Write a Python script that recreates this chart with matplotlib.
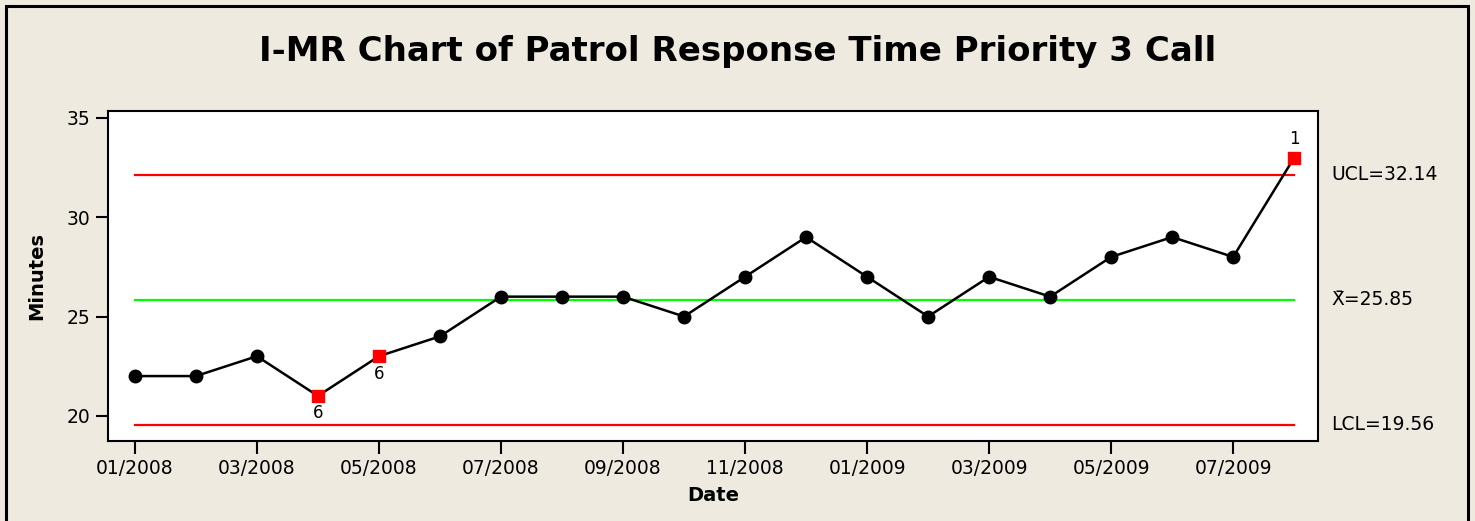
import matplotlib
matplotlib.use("Agg")
import matplotlib.pyplot as plt
from matplotlib.patches import Rectangle

dates = ["01/2008", "02/2008", "03/2008", "04/2008", "05/2008", "06/2008", "07/2008",
         "08/2008", "09/2008", "10/2008", "11/2008", "12/2008", "01/2009", "02/2009",
         "03/2009", "04/2009", "05/2009", "06/2009", "07/2009", "08/2009"]
minutes = [22, 22, 23, 21, 23, 24, 26, 26, 26, 25, 27, 29, 27, 25, 27, 26, 28, 29, 28, 33]
flagged = {3: "6", 4: "6", 19: "1"}
ucl = 32.14
center = 25.85
lcl = 19.56
y_ticks = [20, 25, 30, 35]

bg = "#EEEAE0"
plt.rcParams['font.family'] = ['DejaVu Sans']

fig = plt.figure(figsize=(14.75, 5.21), dpi=100, facecolor=bg)
ax = fig.add_axes([108/1475, 1-441/521, (1318-108)/1475, (441-111)/521])
ax.set_facecolor("white")

x = list(range(len(minutes)))
ax.plot(x, minutes, color="black", lw=1.8, zorder=3)
normal = [i for i in x if i not in flagged]
ax.plot(normal, [minutes[i] for i in normal], "o", color="black", ms=9, zorder=4)
fl = sorted(flagged)
ax.plot(fl, [minutes[i] for i in fl], "s", color="#FF0000", ms=9, zorder=5)
for i, lab in flagged.items():
    if lab == "1":
        ax.annotate(lab, (i, minutes[i]), xytext=(0, 7), textcoords="offset points",
                    ha="center", va="bottom", fontsize=12)
    else:
        ax.annotate(lab, (i, minutes[i]), xytext=(0, -6), textcoords="offset points",
                    ha="center", va="top", fontsize=12)

ax.plot([0, len(minutes)-1], [ucl, ucl], color="#FF0000", lw=1.6, zorder=2)
ax.plot([0, len(minutes)-1], [lcl, lcl], color="#FF0000", lw=1.6, zorder=2)
ax.plot([0, len(minutes)-1], [center, center], color="#00FF00", lw=1.6, zorder=2)

ax.set_xlim(-0.44, 19.39)
ax.set_ylim(18.73, 35.35)
ax.set_yticks(y_ticks)
ax.set_xticks(x[::2])
ax.set_xticklabels(dates[::2])
ax.tick_params(axis="both", direction="out", length=9, width=1.5, labelsize=13.5, pad=4)
for s in ax.spines.values():
    s.set_linewidth(1.5)

ax.set_ylabel("Minutes", fontsize=14, fontweight="bold", labelpad=14)
ax.set_xlabel("Date", fontsize=14, fontweight="bold", labelpad=6)

trans = ax.get_yaxis_transform()
ax.text(1.011, ucl, "UCL=32.14", transform=trans, va="center", ha="left", fontsize=13.5)
ax.text(1.011, center, "X\u0304=25.85", transform=trans, va="center", ha="left", fontsize=13.5)
ax.text(1.011, lcl, "LCL=19.56", transform=trans, va="center", ha="left", fontsize=13.5)

fig.text(0.5, 1-51/521, "I-MR Chart of Patrol Response Time Priority 3 Call",
         ha="center", va="center", fontsize=24.5, fontweight="bold")

fig.patches.append(Rectangle((6/1475, -0.05), (1468-6)/1475, 1.05-6/521,
                             transform=fig.transFigure, fill=False, ec="black", lw=2.2))

fig.savefig("out.png", dpi=100, facecolor=bg)
